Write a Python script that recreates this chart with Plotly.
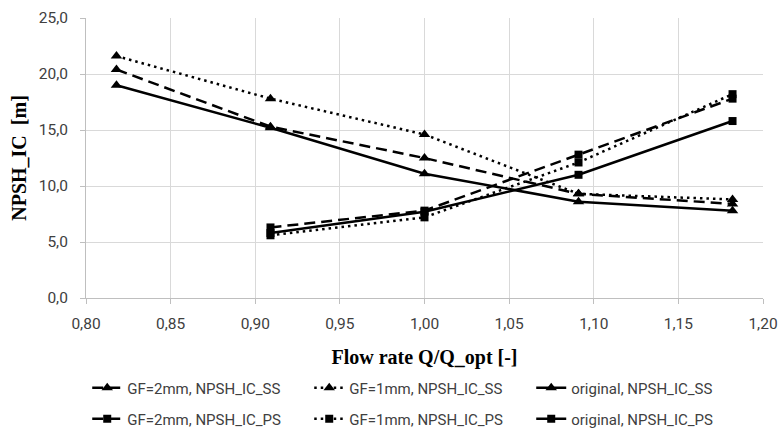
import plotly.graph_objects as go

q_ss = [0.818, 0.909, 1.000, 1.091, 1.182]
q_ps = [0.909, 1.000, 1.091, 1.182]

gf2_ss = [20.4, 15.3, 12.5, 9.3, 8.4]
gf1_ss = [21.6, 17.8, 14.6, 9.3, 8.8]
orig_ss = [19.0, 15.2, 11.1, 8.6, 7.8]

gf2_ps = [6.3, 7.8, 12.8, 17.8]
gf1_ps = [5.6, 7.2, 12.1, 18.2]
orig_ps = [5.8, 7.7, 11.0, 15.8]

x_ticks = [0.80, 0.85, 0.90, 0.95, 1.00, 1.05, 1.10, 1.15, 1.20]
y_ticks = [0, 5, 10, 15, 20, 25]

DASH = "11px,6px"
DOT = "2.5px,4px"

series = [
    ("GF=2mm, NPSH_IC_SS", q_ss, gf2_ss, DASH, "triangle-up", 10, "legend"),
    ("GF=1mm, NPSH_IC_SS", q_ss, gf1_ss, DOT, "triangle-up", 10, "legend"),
    ("original, NPSH_IC_SS", q_ss, orig_ss, "solid", "triangle-up", 10, "legend"),
    ("GF=2mm, NPSH_IC_PS", q_ps, gf2_ps, DASH, "square", 8, "legend2"),
    ("GF=1mm, NPSH_IC_PS", q_ps, gf1_ps, DOT, "square", 8, "legend2"),
    ("original, NPSH_IC_PS", q_ps, orig_ps, "solid", "square", 8, "legend2"),
]

fig = go.Figure()
for name, xs, ys, dash, sym, size, leg in series:
    fig.add_trace(go.Scatter(
        x=xs, y=ys, name=name, mode="lines+markers",
        line=dict(color="black", width=2.5, dash=dash),
        marker=dict(symbol=sym, size=size, color="black"),
        legend=leg,
    ))

tick_font = dict(family="Roboto, sans-serif", size=15.5, color="#404040")
legend_font = dict(family="Roboto, sans-serif", size=15, color="#404040")
title_font = dict(family="Liberation Serif, Times New Roman, serif", size=20, color="black")

leg_common = dict(
    orientation="h", x=(94 - 86) / 677 - 0.01, xanchor="left", yanchor="middle",
    font=legend_font, entrywidth=177, entrywidthmode="pixels",
    bgcolor="rgba(0,0,0,0)",
)

fig.update_layout(
    width=781, height=430,
    margin=dict(l=86, r=18, t=18, b=132, autoexpand=False),
    paper_bgcolor="white", plot_bgcolor="white",
    separators=",.",
    xaxis=dict(
        range=[0.80, 1.20], tickvals=x_ticks, tickformat=".2f",
        showgrid=True, gridcolor="#d9d9d9", gridwidth=1,
        showline=True, linecolor="#bfbfbf", linewidth=1,
        ticks="outside", ticklen=5, tickcolor="#bfbfbf",
        ticklabelstandoff=6,
        tickfont=tick_font, zeroline=False,
        title=dict(text="<b>Flow rate Q/Q_opt [-]</b>", font=title_font, standoff=18),
    ),
    yaxis=dict(
        range=[0, 25], tickvals=y_ticks, tickformat=".1f",
        showgrid=True, gridcolor="#d9d9d9", gridwidth=1,
        showline=True, linecolor="#bfbfbf", linewidth=1,
        ticks="outside", ticklen=5, tickcolor="#bfbfbf",
        ticklabelstandoff=9,
        tickfont=tick_font, zeroline=False,
        title=dict(text="<b>NPSH_IC  [m]</b>", font=title_font, standoff=6),
    ),
    legend=dict(leg_common, y=(298 - 388) / 280),
    legend2=dict(leg_common, y=(298 - 419) / 280),
)

fig.write_html("out.html")
